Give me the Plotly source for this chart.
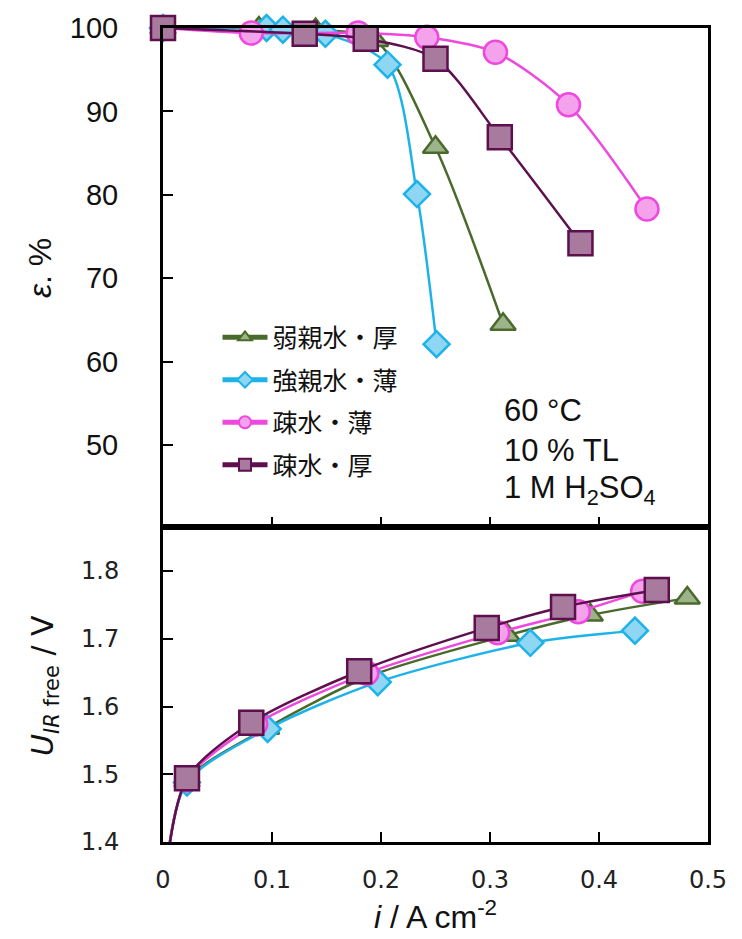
import plotly.graph_objects as go

# ---------------- data ----------------
series_names = ["弱親水・厚", "強親水・薄", "疎水・薄", "疎水・厚"]
series_colors = ["#4a6a2c", "#1eb3e8", "#ee48de", "#5d0f4e"]
series_fills = ["#9db38a", "#8fd6f3", "#f4a2ec", "#a77a9e"]
series_symbols = ["triangle-up", "diamond", "circle", "square"]
series_sizes = [22, 20, 23, 24]

# top panel: efficiency (%) vs current density (A cm-2)
eff_i_wk_thick = [0, 0.088, 0.140, 0.195, 0.250, 0.312]
eff_v_wk_thick = [100, 100, 99.8, 98.5, 85.7, 64.5]
eff_i_st_thin = [0, 0.095, 0.110, 0.149, 0.206, 0.233, 0.251]
eff_v_st_thin = [100, 100, 99.8, 99.3, 95.6, 80.1, 62.1]
eff_i_ph_thin = [0, 0.081, 0.179, 0.242, 0.305, 0.372, 0.444]
eff_v_ph_thin = [100, 99.4, 99.4, 98.9, 97.1, 90.8, 78.3]
eff_i_ph_thick = [0, 0.130, 0.186, 0.250, 0.309, 0.383]
eff_v_ph_thick = [100, 99.3, 98.7, 96.3, 86.9, 74.2]

# bottom panel: IR-free voltage (V) vs current density
u_i_wk_thick = [0.003, 0.022, 0.095, 0.190, 0.316, 0.392, 0.481]
u_v_wk_thick = [1.36, 1.490, 1.568, 1.645, 1.705, 1.735, 1.760]
u_i_st_thin = [0.003, 0.022, 0.096, 0.197, 0.337, 0.433]
u_v_st_thin = [1.36, 1.488, 1.567, 1.636, 1.694, 1.712]
u_i_ph_thin = [0.003, 0.022, 0.085, 0.187, 0.307, 0.381, 0.440]
u_v_ph_thin = [1.36, 1.492, 1.574, 1.649, 1.709, 1.740, 1.770]
u_i_ph_thick = [0.003, 0.022, 0.081, 0.180, 0.297, 0.367, 0.453]
u_v_ph_thick = [1.36, 1.494, 1.576, 1.652, 1.716, 1.747, 1.772]

x_ticks = [0, 0.1, 0.2, 0.3, 0.4, 0.5]
x_tick_text = ["0", "0.1", "0.2", "0.3", "0.4", "0.5"]
eff_ticks = [50, 60, 70, 80, 90, 100]
u_ticks = [1.4, 1.5, 1.6, 1.7, 1.8]
u_tick_text = ["1.4", "1.5", "1.6", "1.7", "1.8"]

top_sets = [(eff_i_wk_thick, eff_v_wk_thick), (eff_i_st_thin, eff_v_st_thin),
            (eff_i_ph_thin, eff_v_ph_thin), (eff_i_ph_thick, eff_v_ph_thick)]
bot_sets = [(u_i_wk_thick, u_v_wk_thick), (u_i_st_thin, u_v_st_thin),
            (u_i_ph_thin, u_v_ph_thin), (u_i_ph_thick, u_v_ph_thick)]

fig = go.Figure()

for k in range(4):
    xs, ys = top_sets[k]
    fig.add_trace(go.Scatter(
        x=xs, y=ys, xaxis="x2", yaxis="y2", mode="lines+markers",
        name=series_names[k], legendgroup=series_names[k],
        line=dict(color=series_colors[k], width=2.5, shape="spline", smoothing=0.8),
        marker=dict(symbol=series_symbols[k], size=series_sizes[k],
                    color=series_fills[k], line=dict(color=series_colors[k], width=2.5)),
        cliponaxis=False, showlegend=True))

for k in range(4):
    xs, ys = bot_sets[k]
    fig.add_trace(go.Scatter(
        x=xs, y=ys, xaxis="x", yaxis="y", mode="lines+markers",
        name=series_names[k], legendgroup=series_names[k],
        line=dict(color=series_colors[k], width=2.5, shape="spline", smoothing=0.8),
        marker=dict(symbol=series_symbols[k], size=series_sizes[k],
                    color=series_fills[k], line=dict(color=series_colors[k], width=2.5)),
        cliponaxis=True, showlegend=False))

axis_common = dict(showline=True, linecolor="black", linewidth=3, mirror=True,
                   ticks="inside", ticklen=10, tickwidth=2, tickcolor="black",
                   showgrid=False, zeroline=False)

fig.update_layout(
    width=742, height=939,
    margin=dict(l=163, r=34, t=23, b=97),
    paper_bgcolor="white", plot_bgcolor="white",
    font=dict(family="Liberation Sans, Arial", color="#111111"),
    xaxis=dict(domain=[0, 1], anchor="y", range=[0, 0.5], tickvals=x_ticks,
               ticktext=x_tick_text,
               tickfont=dict(family="DejaVu Sans", size=24, color="#222222"),
               ticklabelstandoff=14, **axis_common),
    yaxis=dict(domain=[0, 0.387], anchor="x", range=[1.4, 1.865], tickvals=u_ticks,
               ticktext=u_tick_text,
               tickfont=dict(family="DejaVu Sans", size=24, color="#222222"),
               ticklabelstandoff=36, **axis_common),
    xaxis2=dict(domain=[0, 1], anchor="y2", range=[0, 0.5], tickvals=x_ticks,
                showticklabels=False, matches="x", **axis_common),
    yaxis2=dict(domain=[0.387, 1], anchor="x2", range=[40.2, 100], tickvals=eff_ticks,
                tickfont=dict(family="Liberation Sans, Arial", size=29, color="#111111"),
                ticklabelstandoff=36, **axis_common),
    legend=dict(x=0.1, y=0.648, xanchor="left", yanchor="top",
                bgcolor="rgba(0,0,0,0)", itemsizing="constant", itemwidth=45,
                font=dict(family="Noto Sans CJK JP", size=25, color="#111111"),
                tracegroupgap=7),
    showlegend=True,
)

ann_font = dict(family="Liberation Sans, Arial", size=31, color="#111111")
fig.add_annotation(xref="x2", yref="y2", x=0.311, y=54.2, text="60 °C",
                   showarrow=False, xanchor="left", yanchor="middle", font=ann_font)
fig.add_annotation(xref="x2", yref="y2", x=0.311, y=49.4, text="10 % TL",
                   showarrow=False, xanchor="left", yanchor="middle", font=ann_font)
fig.add_annotation(xref="x2", yref="y2", x=0.311, y=44.6, text="1 M H<sub>2</sub>SO<sub>4</sub>",
                   showarrow=False, xanchor="left", yanchor="middle", font=ann_font)

# axis titles
fig.add_annotation(xref="paper", yref="paper", x=-0.2257, y=0.705, text="<i>ε</i>. %",
                   textangle=-90, showarrow=False, xanchor="center", yanchor="middle",
                   font=dict(family="Liberation Sans, Arial", size=32, color="#111111"))
fig.add_annotation(xref="paper", yref="paper", x=-0.2165, y=0.1917,
                   text="<i>U</i><sub><i>IR</i> free</sub> / V",
                   textangle=-90, showarrow=False, xanchor="center", yanchor="middle",
                   font=dict(family="DejaVu Sans", size=30, color="#111111"))
fig.add_annotation(xref="paper", yref="paper", x=0.5, y=-0.0891,
                   text="<i>i</i> / A cm<sup>-2</sup>",
                   showarrow=False, xanchor="center", yanchor="middle",
                   font=dict(family="Liberation Sans, Arial", size=32, color="#111111"))

fig.write_html("out.html")
